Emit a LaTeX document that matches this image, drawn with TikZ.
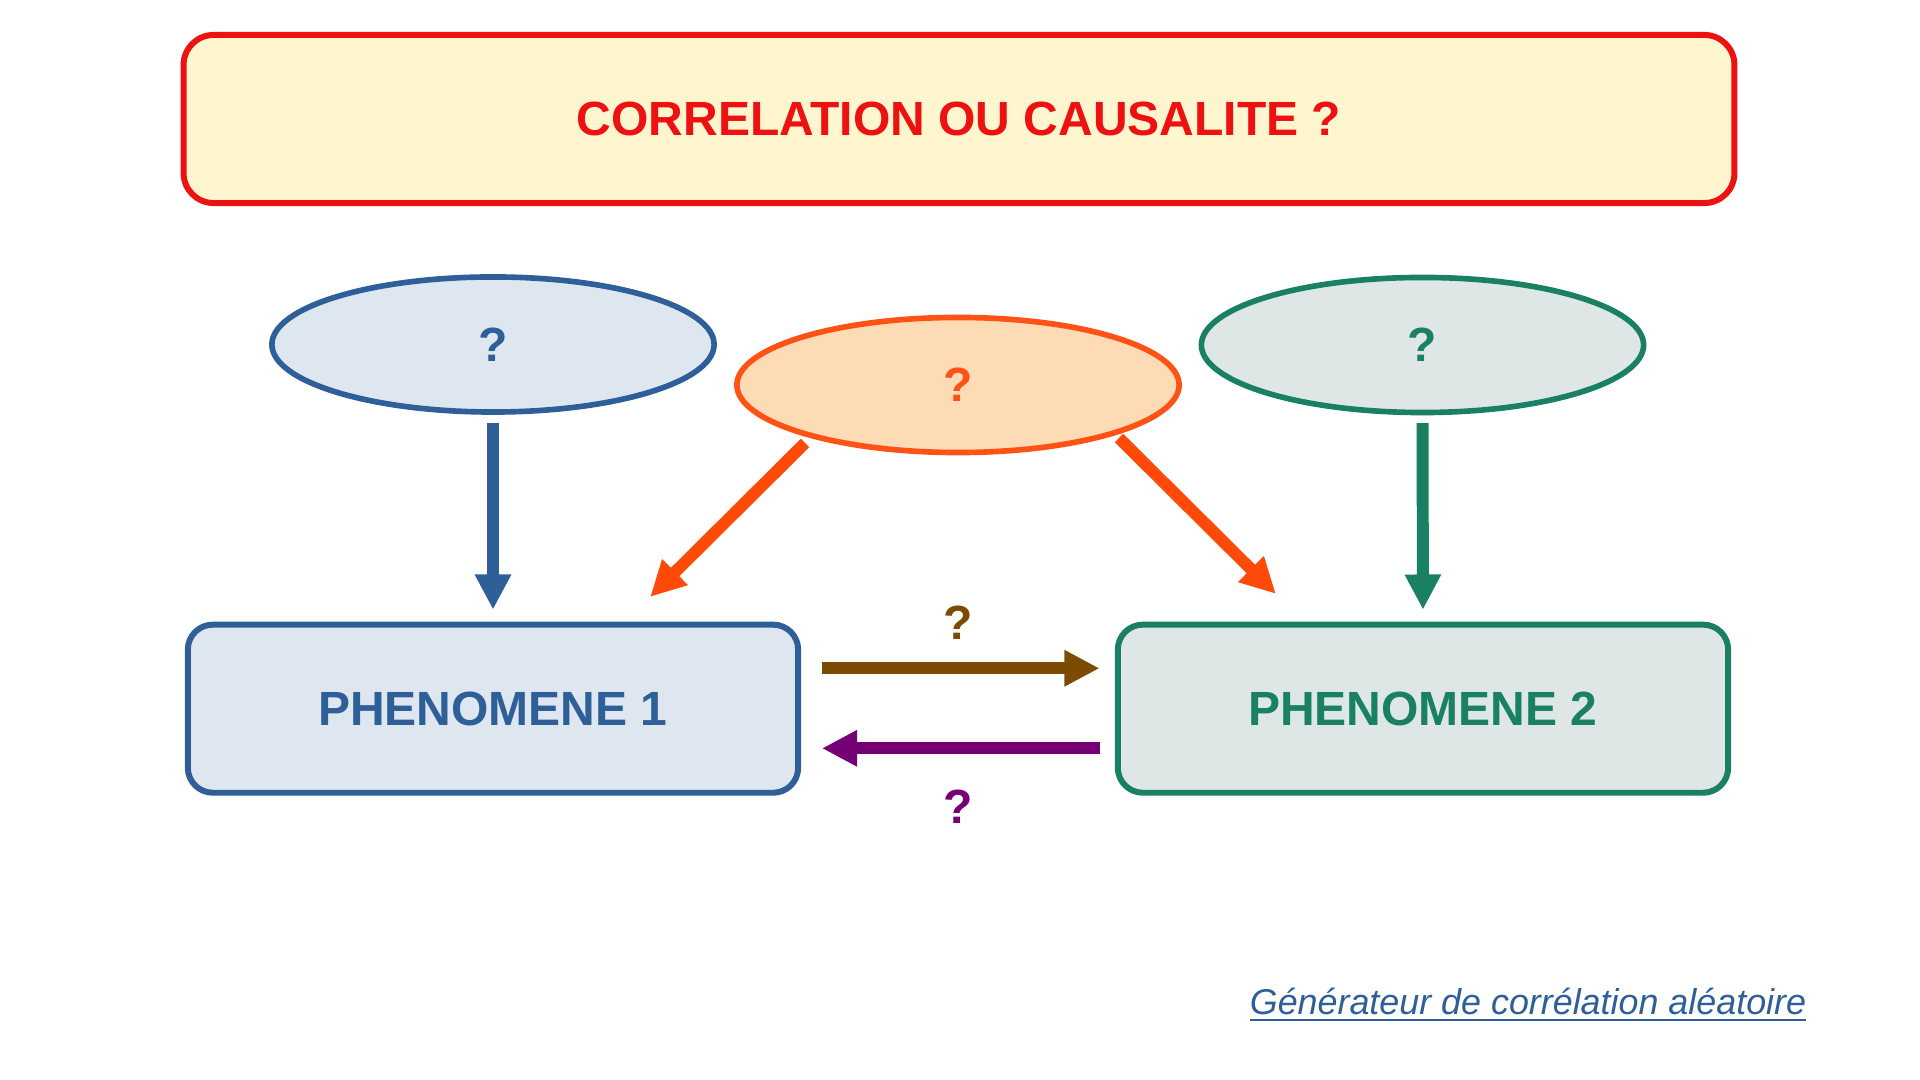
\documentclass[tikz,border=0pt]{standalone}
\usepackage{fontspec}
\setmainfont{Liberation Sans}
\usetikzlibrary{shapes.geometric,arrows.meta,calc}

\newsavebox{\linkbox}
\newcommand{\linkline}[1]{\sbox{\linkbox}{#1}\rlap{\rule[-1.75pt]{\wd\linkbox}{0.65pt}}\usebox{\linkbox}}

\definecolor{titlered}{HTML}{EE1111}
\definecolor{titlefill}{HTML}{FFF5CE}
\definecolor{pblue}{HTML}{2E5F99}
\definecolor{pbluefill}{HTML}{DEE6F0}
\definecolor{porange}{HTML}{FF5214}
\definecolor{porangefill}{HTML}{FDDBB4}
\definecolor{parrow}{HTML}{FF4A0A}
\definecolor{pgreen}{HTML}{198064}
\definecolor{pgreenfill}{HTML}{DEE7E5}
\definecolor{pbrown}{HTML}{7A4B00}
\definecolor{ppurple}{HTML}{750075}

\tikzset{
	bigtext/.style={font=\bfseries\fontsize{13.65}{16}\selectfont},
	phbox/.style={draw, line width=1.7pt, rounded corners=0.25cm, minimum width=6.1cm, minimum height=1.68cm, bigtext},
	causebox/.style={ellipse, draw, line width=1.6pt, minimum width=4.42cm, minimum height=1.35cm, bigtext},
	arr/.style={line width=3.4pt, -{Triangle[width=9.7pt,length=10pt]}}
}

\begin{document}
\begin{tikzpicture}[x=0.01cm, y=-0.01cm]
		\useasboundingbox (0, 0) rectangle (1920, 1080);

		\node[draw=titlered, fill=titlefill, line width=1.7pt, rounded corners=0.3cm, minimum width=15.5cm, minimum height=1.68cm, bigtext, text=titlered] (title) at (959, 119) {CORRELATION OU CAUSALITE ?};

		\node[causebox, draw=pblue, fill=pbluefill, text=pblue] (q1) at (493, 344.5) {?};
		\node[causebox, draw=porange, fill=porangefill, text=porange] (q2) at (958, 385) {?};
		\node[causebox, draw=pgreen, fill=pgreenfill, text=pgreen] (q3) at (1422.5, 345) {?};

		\node[phbox, draw=pblue, fill=pbluefill, text=pblue] (ph1) at (493, 708.7) {PHENOMENE 1};
		\node[phbox, draw=pgreen, fill=pgreenfill, text=pgreen] (ph2) at (1423, 708.7) {PHENOMENE 2};

		\draw[arr, pblue, shorten <=0.078cm, shorten >=0.12cm] (q1.south) -- (ph1.north);
		\draw[arr, pgreen, shorten <=0.078cm, shorten >=0.12cm] (q3.south) -- (ph2.north);

		\draw[arr, parrow] ($(q2.center)+(-153, 58)$) -- ($(ph1.north east)+(-151, -24.8)$);
		\draw[arr, parrow] ($(q2.center)+(161, 53)$) -- ($(ph2.north west)+(161, -27.8)$);

		\draw[arr, pbrown, shorten <=0.208cm, shorten >=0.153cm] ([yshift=0.404cm]ph1.east) -- ([yshift=0.404cm]ph2.west);
		\draw[arr, ppurple, shorten <=0.153cm, shorten >=0.208cm] ([yshift=-0.396cm]ph2.west) -- ([yshift=-0.396cm]ph1.east);

		\node[bigtext, text=pbrown] (qa) at (958, 623) {?};
		\node[bigtext, text=ppurple] (qb) at (958, 807) {?};

		\node[anchor=base, text=pblue, font=\itshape\fontsize{10.2}{12}\selectfont] (link) at (1528, 1015) {\linkline{Générateur de corrélation aléatoire}};
	\end{tikzpicture}
\end{document}
